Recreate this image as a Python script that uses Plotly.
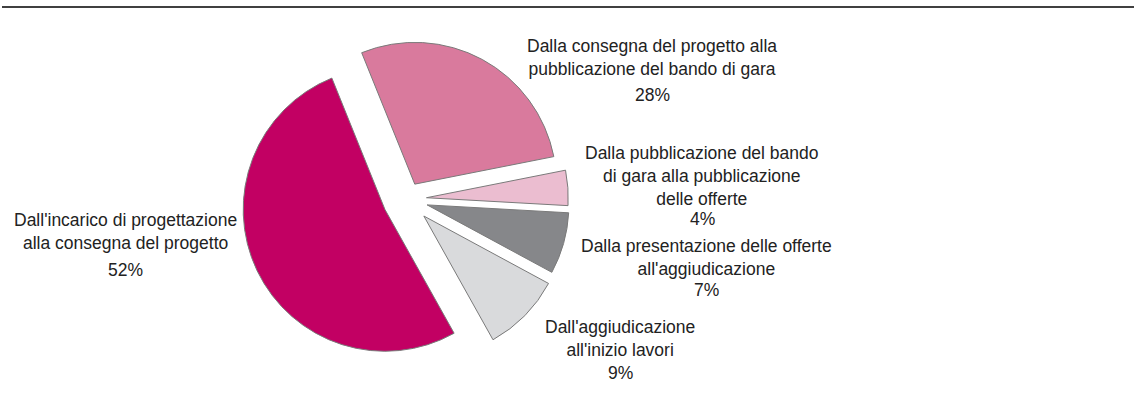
import plotly.graph_objects as go

# dati
fasi = [
    "Dalla consegna del progetto alla<br>pubblicazione del bando di gara",
    "Dalla pubblicazione del bando<br>di gara alla pubblicazione<br>delle offerte",
    "Dalla presentazione delle offerte<br>all'aggiudicazione",
    "Dall'aggiudicazione<br>all'inizio lavori",
    "Dall'incarico di progettazione<br>alla consegna del progetto",
]
quote = [28, 4, 7, 9, 52]
colori = ["#D97A9D", "#EBBDD0", "#86878A", "#D9DADC", "#C20063"]
pull = [0.12, 0.14, 0.15, 0.17, 0.17]

W, H = 1136, 408
FONT = "Liberation Sans, Arial, sans-serif"

# posizioni etichette (pixel: x centro, y prima riga, y percentuale)
pos_label = [(652, 45, 95), (702, 152, 219), (706, 245, 290), (620, 326, 373), (125, 219, 270)]

fig = go.Figure(go.Pie(
    labels=fasi,
    values=quote,
    marker=dict(colors=colori, line=dict(color="#7a7a7a", width=1)),
    pull=pull,
    sort=False,
    direction="clockwise",
    rotation=-22,
    textinfo="none",
    hoverinfo="label+percent",
    showlegend=False,
    domain=dict(x=[0.212, 0.504], y=[0.105, 0.919]),
))

annotations = []
for testo, q, (x, y1, yp) in zip(fasi, quote, pos_label):
    annotations.append(dict(
        x=x / W, y=1 - y1 / H, xref="paper", yref="paper",
        xanchor="center", yanchor="top", yshift=11,
        text=testo, showarrow=False, align="center",
        font=dict(family=FONT, size=17.5, color="#222222"),
    ))
    annotations.append(dict(
        x=x / W, y=1 - yp / H, xref="paper", yref="paper",
        xanchor="center", yanchor="middle",
        text=f"{q}%", showarrow=False,
        font=dict(family=FONT, size=17.5, color="#222222"),
    ))

fig.update_layout(
    width=W, height=H,
    margin=dict(l=0, r=0, t=0, b=0),
    paper_bgcolor="white",
    plot_bgcolor="white",
    annotations=annotations,
    shapes=[dict(type="line", xref="paper", yref="paper",
                 x0=2 / W, x1=1134 / W, y0=1 - 7 / H, y1=1 - 7 / H,
                 line=dict(color="black", width=1.3))],
)

fig.write_html("out.html", config={"displayModeBar": False},
               post_script="document.body.style.margin='0';")
